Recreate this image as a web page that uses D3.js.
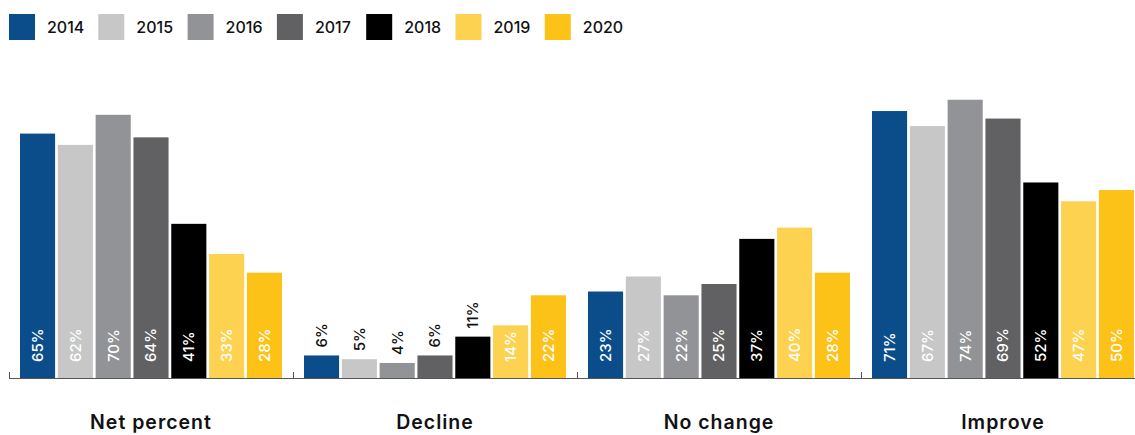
<!DOCTYPE html>
<html>
<head>
<meta charset="utf-8">
<script src="https://cdn.jsdelivr.net/npm/d3@7"></script>
<style>
  html, body { margin: 0; padding: 0; background: #fff; }
  svg { display: block; font-family: Inter, "Noto Sans", sans-serif; }
</style>
</head>
<body>
<svg id="chart" width="1135" height="435"></svg>
<script>
// Survey responses by category and year (percent)
const categories = ["Net percent", "Decline", "No change", "Improve"];
const years = ["2014", "2015", "2016", "2017", "2018", "2019", "2020"];
const colors = ["#0a4d8a", "#c6c7c6", "#929396", "#616163", "#000000", "#fdd250", "#fdc218"];
const v2014 = [65, 6, 23, 71];
const v2015 = [62, 5, 27, 67];
const v2016 = [70, 4, 22, 74];
const v2017 = [64, 6, 25, 69];
const v2018 = [41, 11, 37, 52];
const v2019 = [33, 14, 40, 47];
const v2020 = [28, 22, 28, 50];
const seriesValues = [v2014, v2015, v2016, v2017, v2018, v2019, v2020];

const svg = d3.select("#chart");
const baseY = 378;

const x0 = d3.scaleBand().domain(categories).range([9, 1145]).padding(0);
const x1 = d3.scaleBand().domain(years).range([11, 273]).paddingInner(0.072).paddingOuter(0);
const y = d3.scaleLinear().domain([0, 100]).range([baseY, 2]);
const color = d3.scaleOrdinal().domain(years).range(colors);

// Legend
const legend = svg.append("g").attr("class", "legend");
const li = legend.selectAll("g").data(years).join("g")
  .attr("transform", (d, i) => `translate(${9 + i * 89.3},14)`);
li.append("rect").attr("width", 26).attr("height", 26).attr("fill", d => color(d));
li.append("text").attr("x", 38).attr("y", 13).attr("dy", "0.36em")
  .attr("font-size", 16).attr("font-weight", 500).attr("fill", "#111")
  .text(d => d);

// Bars
const rows = [];
categories.forEach((c, ci) => {
  years.forEach((yr, yi) => rows.push({ cat: c, year: yr, value: seriesValues[yi][ci] }));
});

const groups = svg.append("g").selectAll("g").data(categories).join("g")
  .attr("transform", d => `translate(${x0(d)},0)`);

groups.selectAll("rect").data(c => rows.filter(r => r.cat === c)).join("rect")
  .attr("x", d => x1(d.year))
  .attr("y", d => y(d.value))
  .attr("width", x1.bandwidth())
  .attr("height", d => baseY - y(d.value))
  .attr("fill", d => color(d.year));

// Value labels: inside the bar bottom when tall enough, above otherwise
groups.selectAll("text.val").data(c => rows.filter(r => r.cat === c)).join("text")
  .attr("class", "val")
  .attr("transform", d => {
    const cx = x1(d.year) + x1.bandwidth() / 2;
    const yy = d.value > 12 ? baseY - 16 : y(d.value) - 8;
    return `translate(${cx},${yy}) rotate(-90)`;
  })
  .attr("dy", "0.36em")
  .attr("font-size", 15).attr("font-weight", 500)
  .attr("fill", d => d.value > 12 ? "#fff" : "#111")
  .text(d => d.value + "%");

// Axis baseline with group separators
const axis = d3.axisBottom(x0).tickValues([]).tickSizeOuter(0);
const axisG = svg.append("g").attr("transform", `translate(0,${baseY})`).call(axis);
axisG.select(".domain").attr("stroke", "#555").attr("d", "M9,0.5H1135");
axisG.selectAll(".sep").data(categories).join("line")
  .attr("class", "sep")
  .attr("x1", d => x0(d) + 0.5).attr("x2", d => x0(d) + 0.5)
  .attr("y1", -6).attr("y2", 0.5)
  .attr("stroke", "#555");

// Category labels
svg.append("g").selectAll("text").data(categories).join("text")
  .attr("x", d => x0(d) + x0.bandwidth() / 2)
  .attr("y", 429)
  .attr("text-anchor", "middle")
  .attr("font-size", 19.5).attr("font-weight", 600).attr("letter-spacing", 1)
  .attr("fill", "#111")
  .text(d => d);
</script>
</body>
</html>
